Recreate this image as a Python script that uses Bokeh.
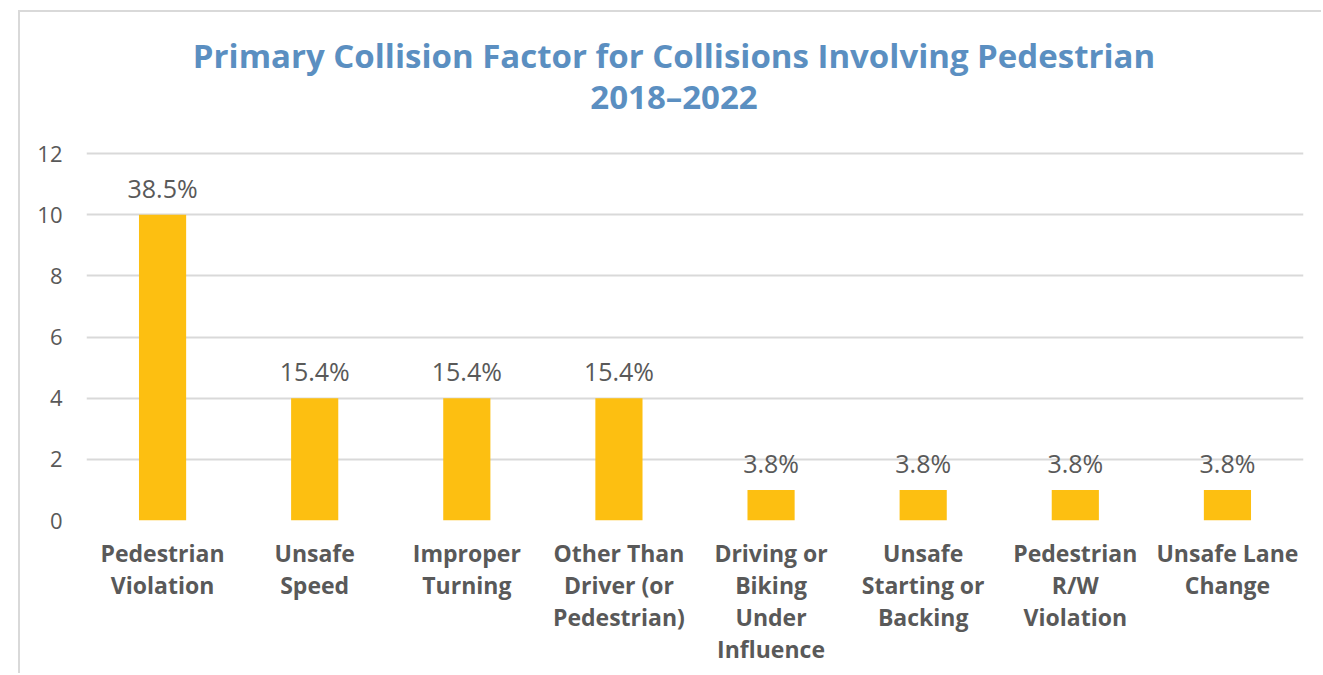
from bokeh.plotting import figure
from bokeh.models import ColumnDataSource, LabelSet, Label, Range1d, FactorRange, FixedTicker
from bokeh.core.properties import value
from bokeh.embed import file_html
from bokeh.resources import INLINE

categories = ["Pedestrian\nViolation", "Unsafe\nSpeed", "Improper\nTurning",
              "Other Than\nDriver (or\nPedestrian)", "Driving or\nBiking\nUnder\nInfluence",
              "Unsafe\nStarting or\nBacking", "Pedestrian\nR/W\nViolation", "Unsafe Lane\nChange"]
counts = [10, 4, 4, 4, 1, 1, 1, 1]
pct_labels = ["38.5%", "15.4%", "15.4%", "15.4%", "3.8%", "3.8%", "3.8%", "3.8%"]
y_ticks = [0, 2, 4, 6, 8, 10, 12]
title_lines = ["Primary Collision Factor for Collisions Involving Pedestrian", "2018\u20132022"]

FONT = "Open Sans"
GRAY = "#595959"

# pixel layout of the frame: value 0 sits at y=520 and 12 at y=153 (canvas top at 12)
px_per_unit = (520 - 153) / 12
y_top = 12 + (153 - 12) / px_per_unit

src = ColumnDataSource(dict(cat=categories, val=counts, lab=pct_labels))

p = figure(x_range=FactorRange(*categories, range_padding=0), y_range=Range1d(0, y_top),
           width=1303, height=663, output_backend="svg", toolbar_location=None,
           min_border_left=66, min_border_right=20, min_border_top=0, min_border_bottom=155)
p.margin = (10, 0, 0, 18)
p.styles = {"border-left": "2px solid #d9d9d9", "border-top": "2px solid #d9d9d9"}
p.title = None

p.vbar(x="cat", top="val", width=0.31, source=src, color="#FDBF11", line_color=None)

p.add_layout(LabelSet(x="cat", y="val", text="lab", source=src, text_align="center",
                      text_baseline="bottom", y_offset=10, text_font=value(FONT),
                      text_font_size="25px", text_color=GRAY))

p.outline_line_color = None
p.xgrid.grid_line_color = None
p.ygrid.grid_line_color = "#d9d9d9"
p.ygrid.grid_line_width = 2
p.yaxis.ticker = FixedTicker(ticks=y_ticks)
for ax in (p.xaxis, p.yaxis):
    ax.axis_line_color = None
    ax.major_tick_line_color = None
    ax.minor_tick_line_color = None
    ax.major_label_text_font = FONT
    ax.major_label_text_color = GRAY
p.yaxis.major_label_text_font_size = "22px"
p.yaxis.major_label_standoff = 18
p.xaxis.major_label_text_font_size = "23px"
p.xaxis.major_label_text_font_style = "bold"
p.xaxis.major_label_text_line_height = 1.0
p.xaxis.major_label_standoff = 10

n = len(categories)
title_y = [(520 - 55) / px_per_unit, (520 - 96) / px_per_unit]
for t, ty in zip(title_lines, title_y):
    p.add_layout(Label(x=n / 2, y=ty, x_offset=-21, text=t, text_align="center",
                       text_baseline="middle", text_font=FONT, text_font_size="33px",
                       text_font_style="bold", text_color="#5B8FC1"))

open("out.html", "w").write(file_html(p, INLINE))
